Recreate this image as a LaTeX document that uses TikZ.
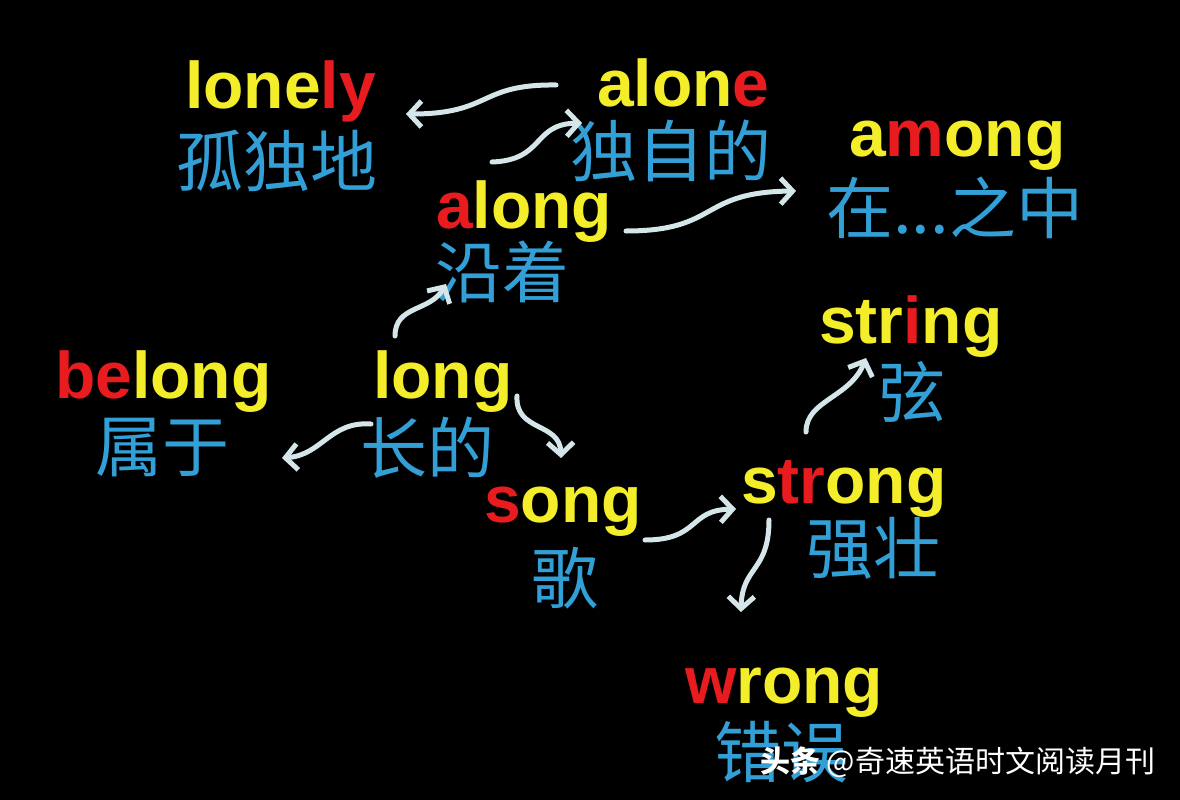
\documentclass[tikz,border=0pt]{standalone}
\usepackage{fontspec}
\setmainfont{Liberation Sans}
\newfontfamily\cjk{Noto Sans CJK SC}
\usetikzlibrary{arrows.meta}
\definecolor{yel}{HTML}{F4EE2A}
\definecolor{rd}{HTML}{E81B1E}
\definecolor{blu}{HTML}{32A0D6}
\definecolor{arr}{HTML}{D4E6EA}
\newcommand{\rp}[1]{\textcolor{rd}{#1}}
\tikzset{
  eng/.style={anchor=base west, inner sep=0pt, text=yel, font=\bfseries\fontsize{66}{66}\selectfont},
  chn/.style={anchor=west, inner sep=0pt, text=blu, font=\cjk\fontsize{67}{67}\selectfont},
  link/.style={draw=arr, line width=5pt, line cap=round, -{Straight Barb[length=12pt,width=26pt,line width=5pt]}},
}
\begin{document}
\begin{tikzpicture}[x=1pt,y=-1pt]
\fill[black] (0,0) rectangle (1180,800);
\useasboundingbox (0,0) rectangle (1180,800);
% words
\node[eng] (lonely) at (185,108) {lone\rp{ly}};
\node[chn] (lonelyc) at (176,161) {孤独地};
\node[eng] (alone) at (597,106) {alon\rp{e}};
\node[chn] (alonec) at (570,151) {独自的};
\node[eng] (among) at (849,156) {a\rp{m}ong};
\node[chn] (amongc) at (826,208) {在...之中};
\node[eng] (along) at (436,228) {\rp{a}long};
\node[chn] (alongc) at (435,272) {沿着};
\node[eng] (string) at (819,343) {str\rp{i}ng};
\node[chn] (stringc) at (878,392) {弦};
\node[eng] (belong) at (55,398) {\rp{be}long};
\node[chn] (belongc) at (95,448) {属于};
\node[eng] (long) at (373,398) {long};
\node[chn] (longc) at (360,448) {长的};
\node[eng] (song) at (484,522) {\rp{s}ong};
\node[chn] (songc) at (531,578) {歌};
\node[eng] (strong) at (741,503) {s\rp{tr}ong};
\node[chn] (strongc) at (806,548) {强壮};
\node[eng] (wrong) at (685,703) {\rp{w}rong};
\node[chn] (wrongc) at (714,752) {错误};
\node[anchor=west, inner sep=0pt, text=white, font=\cjk\fontsize{30}{30}\selectfont] (mark) at (760,762) {\textbf{头条} @奇速英语时文阅读月刊};
% arrow ends
\coordinate (a1s) at (556,85);  \coordinate (a1e) at (406,114);
\coordinate (a2s) at (492,162); \coordinate (a2e) at (582,123);
\coordinate (a3s) at (626,231); \coordinate (a3e) at (796,191);
\coordinate (a4s) at (395,336); \coordinate (a4e) at (446,284);
\coordinate (a5s) at (371,424); \coordinate (a5e) at (282,458);
\coordinate (a6s) at (517,396); \coordinate (a6e) at (561,458);
\coordinate (a7s) at (645,540); \coordinate (a7e) at (736,509);
\coordinate (a8s) at (806,432); \coordinate (a8e) at (866,358);
\coordinate (a9s) at (769,520); \coordinate (a9e) at (741,612);
% arrows
\draw[link] (a1s) .. controls (478,84) and (492,114) .. (a1e);
\draw[link] (a2s) .. controls (545,160) and (532,124) .. (a2e);
\draw[link] (a3s) .. controls (720,231) and (698,192) .. (a3e);
\draw[link] (a4s) .. controls (395,305) and (430,312) .. (a4e);
\draw[link] (a5s) .. controls (330,421) and (322,455) .. (a5e);
\draw[link] (a6s) .. controls (515,432) and (560,422) .. (a6e);
\draw[link] (a7s) .. controls (700,540) and (688,510) .. (a7e);
\draw[link] (a8s) .. controls (806,400) and (850,398) .. (a8e);
\draw[link] (a9s) .. controls (769,572) and (742,566) .. (a9e);
\end{tikzpicture}
\end{document}
